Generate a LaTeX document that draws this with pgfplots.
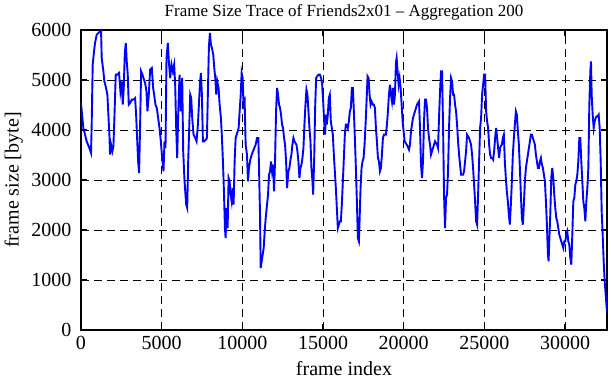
\documentclass[border=0pt]{standalone}
\usepackage{pgfplots}
\pgfplotsset{compat=1.18}
\usepackage{fontspec}
\setmainfont{Liberation Serif}
\begin{document}
\begin{tikzpicture}
\useasboundingbox (-81bp,-50bp) rectangle (530bp,330bp);
\begin{axis}[
  scale only axis,
  width=526bp, height=300bp,
  xmin=0, xmax=32600, ymin=0, ymax=6000,
  xtick={0,5000,10000,15000,20000,25000,30000},
  ytick={0,1000,2000,3000,4000,5000,6000},
  /pgf/number format/assume math mode=true,
  /pgf/number format/1000 sep={},
  scaled x ticks=false, scaled y ticks=false,
  tick label style={font=\fontsize{20bp}{22bp}\selectfont, black},
  xticklabel style={yshift=-3bp},
  yticklabel style={xshift=-6bp},
  label style={font=\fontsize{20bp}{22bp}\selectfont},
  xmajorgrids, ymajorgrids,
  major grid style={black, dash pattern=on 8bp off 5bp, line width=0.9bp},
  axis line style={black, line width=1.4bp},
  major tick style={black, line width=1.2bp},
  major tick length=6bp,
  tick align=inside,
  title={Frame Size Trace of Friends2x01 -- Aggregation 200},
  title style={font=\fontsize{17bp}{19bp}\selectfont, at={(axis description cs:0.5,1.04)}, anchor=center},
  xlabel={frame index},
  ylabel={frame size [byte]},
  xlabel style={at={(axis description cs:0.5,-0.128)}, anchor=center},
  ylabel style={at={(axis description cs:-0.128,0.5)}, anchor=center},
]
\addplot[color={rgb,255:red,0;green,0;blue,255}, line width=1.9bp, mark=none] coordinates {
(0,4540)(145,4040)(250,3907)(352,3773)(518,3640)(621,3540)(662,4107)(725,5307)(807,5573)(869,5740)(973,5907)(1076,5940)(1180,5973)(1242,6000)(1283,5440)(1387,5173)(1449,4973)(1553,4840)(1635,4707)(1697,4307)(1760,3907)(1801,3507)(1863,3707)(1946,3573)(2008,3673)(2070,4240)(2153,5107)(2256,5107)(2360,5140)(2443,4773)(2525,4973)(2588,4507)(2650,4840)(2712,5507)(2774,5740)(2836,5373)(2898,5107)(2960,4507)(3043,4540)(3146,4607)(3250,4607)(3353,4640)(3416,4307)(3478,3840)(3540,3373)(3602,3140)(3664,4107)(3726,5173)(3809,5107)(3871,5040)(3974,4940)(4057,4773)(4119,4373)(4202,4707)(4285,5207)(4388,5240)(4471,4840)(4533,4707)(4616,4507)(4699,4440)(4782,4240)(4865,4040)(4947,3773)(5030,3440)(5113,3173)(5175,3773)(5237,3640)(5299,5440)(5382,5740)(5444,5373)(5527,5040)(5610,5307)(5693,5173)(5775,5307)(5837,4907)(5900,4040)(5962,3440)(6024,4307)(6107,5107)(6189,4373)(6272,5040)(6334,3573)(6417,2973)
(6520,2507)(6582,2440)(6644,3373)(6706,4040)(6769,4707)(6831,4640)(6893,4240)(6976,3907)(7079,3840)(7162,3773)(7245,4107)(7307,4507)(7369,4907)(7431,5140)(7493,4707)(7555,3773)(7638,3773)(7742,3807)(7804,3840)(7866,4773)(7928,5673)(7990,5940)(8052,5707)(8114,5640)(8197,5507)(8259,5240)(8321,5040)(8383,4707)(8445,4973)(8528,4840)(8590,4507)(8673,4240)(8735,3840)(8797,3373)(8859,2773)(8921,2040)(8963,1840)(9025,2440)(9087,2040)(9149,3040)(9211,2973)(9273,2707)(9335,2573)(9397,2840)(9459,2507)(9521,3373)(9584,3840)(9646,3907)(9708,3973)(9770,4040)(9832,4373)(9894,4673)(9956,5140)(10018,5040)(10080,4507)(10142,4573)(10204,3707)(10287,3507)(10349,2973)(10411,3240)(10494,3407)(10577,3507)(10660,3573)(10742,3640)(10825,3707)(10908,3840)(10991,3840)(11033,3240)(11095,2307)(11136,1240)(11198,1373)(11261,1507)(11323,1640)(11385,1973)(11447,2240)(11530,2507)(11592,2707)(11654,3107)(11716,3173)(11778,3373)(11840,3173)(11902,3307)(11964,2773)(12026,3373)(12089,4373)(12151,4840)(12213,4707)(12275,4507)(12337,4440)(12399,4307)(12461,4107)(12523,4040)(12585,3840)(12647,3707)(12710,3373)(12772,2840)(12854,3173)(12916,3240)(12979,3400)(13041,3507)
(13103,3707)(13165,3840)(13227,3773)(13290,3740)(13352,3707)(13414,3573)(13476,3373)(13538,3040)(13600,3240)(13662,3307)(13724,3440)(13786,3640)(13848,4107)(13911,4507)(13973,4807)(14035,4707)(14097,4373)(14159,4040)(14221,3773)(14283,3240)(14345,2973)(14387,2707)(14449,3373)(14511,4440)(14573,5040)(14635,5073)(14718,5107)(14801,5107)(14883,5040)(14946,4907)(15008,4573)(15070,4173)(15132,3907)(15173,4307)(15235,4107)(15297,4307)(15359,4640)(15421,4707)(15484,4173)(15546,4040)(15608,3907)(15670,3507)(15732,3173)(15794,2840)(15856,2440)(15918,2040)(15980,2107)(16042,2173)(16104,2173)(16166,2507)(16229,2973)(16291,3440)(16353,3907)(16415,4107)(16477,4107)(16539,4040)(16601,4173)(16663,4373)(16725,4440)(16787,4840)(16849,4840)(16911,4373)(16974,3840)(17036,3240)(17098,2573)(17160,1840)(17222,1773)(17264,2173)(17326,2840)(17388,3240)(17450,3373)(17512,3440)(17574,3707)(17636,4107)(17698,4573)(17760,5073)(17822,5040)(17885,4707)(17947,4507)(18009,4573)(18092,4507)(18154,4507)(18216,4440)(18278,4040)(18340,3773)(18402,3440)(18464,3373)(18526,3173)(18588,3240)(18650,3507)(18712,3840)(18774,3907)(18836,3907)(18899,3907)(18961,4107)(19023,4373)(19085,4707)(19147,4907)(19209,4707)(19271,4573)(19333,4840)(19395,4507)(19457,4707)(19520,5350)
(19561,5440)(19623,5173)(19685,4907)(19747,5040)(19810,4840)(19872,4507)(19934,4173)(19996,3973)(20058,3773)(20120,3740)(20182,3707)(20244,3673)(20327,3607)(20389,3707)(20451,3973)(20513,4107)(20575,4240)(20637,4307)(20699,4373)(20761,4440)(20823,4507)(20886,4540)(20948,4573)(21010,4040)(21072,3307)(21134,3040)(21196,3373)(21258,4173)(21320,4607)(21382,4607)(21444,4440)(21507,4040)(21569,3840)(21631,3707)(21693,3507)(21755,3573)(21817,3640)(21879,3707)(21941,3773)(22003,3740)(22065,3707)(22127,3640)(22189,4240)(22252,4773)(22314,5173)(22376,5173)(22438,4107)(22500,2707)(22562,2040)(22624,2640)(22686,2707)(22748,3173)(22810,4040)(22873,4640)(22935,5040)(22997,4973)(23059,4707)(23121,4707)(23183,4507)(23245,4373)(23307,4107)(23369,3773)(23431,3507)(23493,3307)(23556,3107)(23618,3107)(23680,3107)(23742,3173)(23804,3373)(23866,3573)(23928,3907)(23990,3873)(24052,3840)(24114,3773)(24176,3707)(24238,3507)(24300,3240)(24363,2907)(24425,2573)(24487,2173)(24549,2107)(24611,2707)(24673,3373)(24735,4040)(24797,4240)(24859,4707)(24921,4907)(24984,5107)(25046,5107)(25108,4373)(25170,4173)(25232,4040)(25294,3707)(25356,3507)(25418,3440)(25480,3440)(25542,3407)(25604,3573)(25666,3840)(25728,4040)(25790,3840)(25852,3640)(25914,3440)(25976,3640)
(26020,3680)(26082,3707)(26144,3840)(26206,3907)(26268,3373)(26330,3040)(26392,2773)(26455,2573)(26517,2307)(26579,2107)(26641,2507)(26703,2973)(26765,3507)(26827,3840)(26889,4107)(26952,4373)(27014,4307)(27076,3973)(27138,3707)(27200,3240)(27262,2707)(27324,2240)(27386,2107)(27448,2507)(27510,2973)(27573,3240)(27635,3373)(27697,3507)(27759,3640)(27821,3773)(27883,3907)(27945,3907)(28007,3840)(28069,3773)(28131,3707)(28194,3507)(28256,3373)(28318,3240)(28380,3240)(28442,3373)(28504,3440)(28566,3307)(28628,3240)(28690,3107)(28752,2973)(28814,2573)(28876,2107)(28939,1507)(28980,1373)(29022,1773)(29084,2307)(29146,3040)(29208,3240)(29270,3040)(29332,2707)(29394,2440)(29456,2240)(29518,2173)(29580,2040)(29642,1907)(29705,1840)(29767,1773)(29829,1707)(29891,1640)(29953,1773)(30015,1773)(30077,1907)(30139,1973)(30201,1773)(30263,1707)(30326,1440)(30388,1307)(30450,1907)(30512,2573)(30574,2640)(30636,2907)(30698,2973)(30760,3107)(30822,3373)(30884,3840)(30946,3840)(31008,3373)(31070,2973)(31132,2573)(31194,2440)(31257,2173)(31319,2573)(31381,2840)(31443,3240)(31505,4507)(31567,5173)(31608,5373)(31650,4707)(31712,4307)(31774,4040)(31836,4173)(31898,4240)(31960,4273)(32022,4273)(32084,4307)(32146,4040)(32208,3373)(32270,2373)(32332,1907)(32394,1373)(32456,973)(32518,707)(32580,440)(32600,373)
};
\end{axis}
\end{tikzpicture}
\end{document}
